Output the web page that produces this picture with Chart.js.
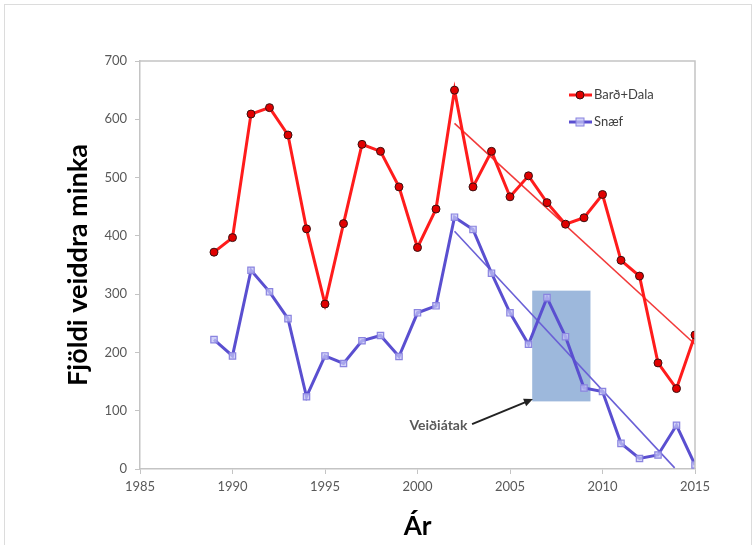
<!DOCTYPE html>
<html lang="is">
<head>
<meta charset="UTF-8">
<title>Fjöldi veiddra minka</title>
<script src="https://cdn.jsdelivr.net/npm/chart.js"></script>
<style>
  html, body { margin: 0; padding: 0; background: #fff; overflow: hidden; }
  .wrap { position: relative; width: 754px; height: 545px; overflow: hidden; }
  .frame { position: absolute; left: 4px; top: 4px; width: 746px; height: 560px; border: 1px solid #dcdcdc; }
  canvas { position: absolute; left: 0; top: 0; }
</style>
</head>
<body>
<div class="wrap">
  <div class="frame"></div>
  <canvas id="minkChart" width="754" height="545"></canvas>
</div>

<script>
// ---- data ----
const years = [1989, 1990, 1991, 1992, 1993, 1994, 1995, 1996, 1997, 1998, 1999, 2000, 2001,
               2002, 2003, 2004, 2005, 2006, 2007, 2008, 2009, 2010, 2011, 2012, 2013, 2014, 2015];
const bardDala = [372, 397, 609, 620, 573, 412, 283, 421, 557, 545, 484, 380, 446,
                  650, 484, 545, 467, 503, 457, 420, 431, 471, 358, 331, 182, 138, 230];
const snaef = [222, 194, 341, 304, 258, 124, 194, 181, 220, 229, 193, 268, 280,
               432, 411, 336, 268, 214, 294, 227, 139, 133, 44, 18, 24, 75, 7];

// trend lines: [year, value] end points
const bardTrend = [[2002, 593], [2015, 214]];
const snaefTrend = [[2002, 408], [2013.9, 2]];

// "Veiðiátak" period box and arrow, in data units
const effortBox = { from: 2006.2, to: 2009.35, low: 116, high: 306 };
const noteText = 'Veiðiátak';
const noteAt = [2002.7, 75];
const arrowFrom = [2002.95, 77];
const arrowTo = [2006.24, 120];

const seriesNames = ['Barð+Dala', 'Snæf'];

const FONT = 'Lato, "Liberation Sans", sans-serif';
const RED = '#ff1c1c';
const BLUE = '#5a4fd0';

const toXY = (vals) => years.map((yr, i) => ({ x: yr, y: vals[i] }));
const pairXY = (pts) => pts.map(p => ({ x: p[0], y: p[1] }));

const extras = {
  id: 'extras',
  beforeDatasetsDraw(chart) {
    const { ctx, scales: { x, y } } = chart;
    ctx.save();
    ctx.fillStyle = '#9db8dc';
    const x0 = x.getPixelForValue(effortBox.from);
    const x1 = x.getPixelForValue(effortBox.to);
    const y0 = y.getPixelForValue(effortBox.low);
    const y1 = y.getPixelForValue(effortBox.high);
    ctx.fillRect(x0, y1, x1 - x0, y0 - y1);
    ctx.restore();
  },
  afterDraw(chart) {
    const { ctx, chartArea: a, scales: { x, y } } = chart;
    ctx.save();

    // top + right of plot frame
    ctx.strokeStyle = '#c4c4c4';
    ctx.lineWidth = 1.5;
    ctx.beginPath();
    ctx.moveTo(a.left, a.top);
    ctx.lineTo(a.right, a.top);
    ctx.lineTo(a.right, a.bottom);
    ctx.stroke();

    // note + arrow
    const ax0 = x.getPixelForValue(arrowFrom[0]), ay0 = y.getPixelForValue(arrowFrom[1]);
    const ax1 = x.getPixelForValue(arrowTo[0]), ay1 = y.getPixelForValue(arrowTo[1]);
    const ang = Math.atan2(ay1 - ay0, ax1 - ax0);
    ctx.strokeStyle = '#222';
    ctx.fillStyle = '#222';
    ctx.lineWidth = 2;
    ctx.beginPath();
    ctx.moveTo(ax0, ay0);
    ctx.lineTo(ax1 - 6 * Math.cos(ang), ay1 - 6 * Math.sin(ang));
    ctx.stroke();
    ctx.beginPath();
    ctx.moveTo(ax1, ay1);
    ctx.lineTo(ax1 - 9 * Math.cos(ang) + 4 * Math.sin(ang), ay1 - 9 * Math.sin(ang) - 4 * Math.cos(ang));
    ctx.lineTo(ax1 - 9 * Math.cos(ang) - 4 * Math.sin(ang), ay1 - 9 * Math.sin(ang) + 4 * Math.cos(ang));
    ctx.closePath();
    ctx.fill();

    ctx.font = 'bold 14px ' + FONT;
    ctx.fillStyle = '#595959';
    ctx.textAlign = 'right';
    ctx.textBaseline = 'middle';
    ctx.fillText(noteText, x.getPixelForValue(noteAt[0]), y.getPixelForValue(noteAt[1]));

    // legend
    const rows = [95, 122];
    chart.data.datasets.slice(0, 2).forEach((ds, i) => {
      const ly = rows[i];
      ctx.strokeStyle = ds.borderColor;
      ctx.lineWidth = 3;
      ctx.beginPath();
      ctx.moveTo(569, ly);
      ctx.lineTo(592, ly);
      ctx.stroke();
      ctx.fillStyle = ds.pointBackgroundColor;
      ctx.strokeStyle = ds.pointBorderColor;
      ctx.lineWidth = 1;
      if (ds.pointStyle === 'rect') {
        ctx.fillRect(576, ly - 4, 8, 8);
        ctx.strokeRect(576, ly - 4, 8, 8);
      } else {
        ctx.beginPath();
        ctx.arc(580, ly, 4, 0, Math.PI * 2);
        ctx.fill();
        ctx.stroke();
      }
      ctx.fillStyle = '#404040';
      ctx.font = '13px ' + FONT;
      ctx.textAlign = 'left';
      ctx.fillText(ds.label, 594, ly);
    });
    ctx.restore();
  }
};

new Chart(document.getElementById('minkChart'), {
  type: 'line',
  data: {
    datasets: [
      {
        label: seriesNames[0],
        data: toXY(bardDala),
        borderColor: RED,
        borderWidth: 3,
        pointRadius: 4,
        pointBackgroundColor: '#e00000',
        pointBorderColor: '#3a1010',
        pointBorderWidth: 1,
        tension: 0
      },
      {
        label: seriesNames[1],
        data: toXY(snaef),
        borderColor: BLUE,
        borderWidth: 3,
        pointStyle: 'rect',
        pointRadius: 4.5,
        pointBackgroundColor: 'rgba(195,195,245,0.75)',
        pointBorderColor: '#8a84e0',
        pointBorderWidth: 1.2,
        tension: 0
      },
      {
        label: 'trend1',
        data: pairXY(bardTrend),
        borderColor: '#f23a3a',
        borderWidth: 1.6,
        pointRadius: 0
      },
      {
        label: 'trend2',
        data: pairXY(snaefTrend),
        borderColor: '#6a60d6',
        borderWidth: 1.6,
        pointRadius: 0
      }
    ]
  },
  options: {
    responsive: false,
    animation: false,
    devicePixelRatio: 1,
    layout: { padding: { left: 0, right: 59, top: 61, bottom: 0 } },
    plugins: { legend: { display: false }, tooltip: { enabled: false } },
    scales: {
      x: {
        type: 'linear',
        min: 1985,
        max: 2015,
        afterFit: (s) => { s.height = 76; },
        ticks: { stepSize: 5, padding: 5, color: '#595959', font: { family: FONT, size: 13 }, callback: v => String(v) },
        grid: { drawOnChartArea: false, drawTicks: true, tickLength: 5, color: '#c4c4c4' },
        border: { color: '#c4c4c4', width: 1.5 },
        title: { display: true, text: 'Ár', color: '#000', font: { family: FONT, size: 26, weight: 'bold' }, padding: { top: 0, bottom: 3 } }
      },
      y: {
        min: 0,
        max: 700,
        afterFit: (s) => { s.width = 140; },
        ticks: { stepSize: 100, padding: 8, color: '#595959', font: { family: FONT, size: 13 }, callback: v => String(v) },
        grid: { drawOnChartArea: false, drawTicks: true, tickLength: 5, color: '#c4c4c4' },
        border: { color: '#c4c4c4', width: 1.5 },
        title: { display: true, text: 'Fjöldi veiddra minka', color: '#000', font: { family: FONT, size: 27, weight: 'bold' }, padding: { top: 62, bottom: 0 } }
      }
    }
  },
  plugins: [extras]
});
</script>
</body>
</html>
